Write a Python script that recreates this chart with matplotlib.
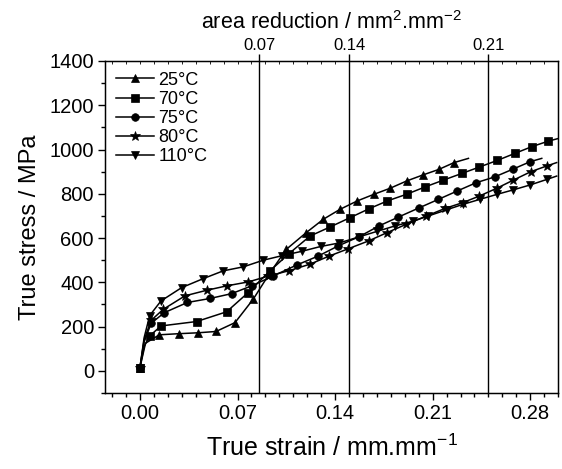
import matplotlib
matplotlib.use("Agg")
import matplotlib.pyplot as plt
from matplotlib.ticker import MultipleLocator

plt.rcParams['font.family'] = ['Liberation Sans', 'DejaVu Sans']
plt.rcParams['mathtext.fontset'] = 'custom'
plt.rcParams['mathtext.rm'] = 'Liberation Sans'
plt.rcParams['mathtext.it'] = 'Liberation Sans'
plt.rcParams['mathtext.default'] = 'regular'

# ---- data (true strain, true stress MPa) ----
labels = ["25°C", "70°C", "75°C", "80°C", "110°C"]
markers = ["^", "s", "o", "*", "v"]

x25 = [0.0, 0.004, 0.0139, 0.0278, 0.0414, 0.0546, 0.0682, 0.0813, 0.093, 0.105, 0.1192,
       0.1316, 0.1436, 0.156, 0.168, 0.1795, 0.1914, 0.203, 0.2144, 0.2254, 0.2357]
y25 = [15, 125, 163, 168, 172, 178, 218, 324, 440, 549, 624,
       685, 730, 768, 798, 825, 858, 885, 910, 941, 960]

x70 = [0.0, 0.003, 0.007, 0.0151, 0.0407, 0.0622, 0.0777, 0.0933, 0.107, 0.122, 0.1364,
       0.1507, 0.1646, 0.1776, 0.1914, 0.2046, 0.2178, 0.231, 0.2436, 0.2565, 0.2692,
       0.2812, 0.2931, 0.3003]
y70 = [15, 110, 158, 203, 223, 267, 354, 452, 530, 609, 650,
       692, 733, 768, 798, 831, 862, 892, 921, 951, 983,
       1013, 1038, 1050]

x75 = [0.0, 0.003, 0.008, 0.0175, 0.034, 0.0502, 0.0658, 0.0801, 0.0957, 0.1124, 0.128,
       0.1424, 0.1575, 0.1716, 0.1855, 0.2005, 0.2142, 0.2278, 0.2412, 0.2544, 0.2675,
       0.28, 0.2883]
y75 = [15, 130, 215, 263, 309, 327, 349, 384, 429, 478, 519,
       565, 607, 655, 695, 737, 775, 813, 850, 876, 911,
       945, 960]

x80 = [0.0, 0.003, 0.008, 0.0167, 0.0323, 0.0478, 0.0622, 0.0778, 0.092, 0.1072, 0.122,
       0.1359, 0.1496, 0.164, 0.1771, 0.191, 0.205, 0.2189, 0.2316, 0.2436, 0.256,
       0.268, 0.2805, 0.292, 0.299]
y80 = [15, 140, 228, 278, 339, 364, 384, 402, 428, 453, 482,
       519, 552, 587, 624, 662, 698, 734, 760, 790, 825,
       862, 900, 926, 941]

x110 = [0.0, 0.003, 0.007, 0.0151, 0.0299, 0.0455, 0.0598, 0.0742, 0.0885, 0.1017, 0.116,
        0.1297, 0.1431, 0.157, 0.170, 0.1831, 0.1957, 0.207, 0.2202, 0.2316, 0.244,
        0.2565, 0.268, 0.28, 0.292, 0.299]
y110 = [15, 150, 250, 316, 376, 417, 452, 470, 500, 520, 540,
        562, 578, 605, 630, 655, 676, 700, 728, 752, 775,
        798, 818, 840, 865, 880]

xs = [x25, x70, x75, x80, x110]
ys = [y25, y70, y75, y80, y110]

# secondary axis ticks: (strain position, area reduction label)
top_pos = [0.0856, 0.150, 0.2498]
top_labels = ["0.07", "0.14", "0.21"]

xticks = [0.00, 0.07, 0.14, 0.21, 0.28]

fig = plt.figure(figsize=(5.62, 4.69), dpi=100)
ax = fig.add_axes([0.187, 0.162, 0.806, 0.708])

for x, y, m, lab in zip(xs, ys, markers, labels):
    mk = [0] + list(range(2, len(x) - 1))
    ms = 7.5 if m == "*" else 5.5
    ax.plot(x, y, color="black", lw=1.1, marker=m, ms=ms, markevery=mk,
            label=lab, markeredgewidth=0.5)

for p in top_pos:
    ax.axvline(p, color="black", lw=1.0)

ax.set_xlim(-0.025, 0.30)
ax.set_ylim(-100, 1400)
ax.set_xticks(xticks)
ax.set_xticklabels([f"{v:.2f}" for v in xticks])
ax.xaxis.set_minor_locator(MultipleLocator(0.01))
ax.yaxis.set_minor_locator(MultipleLocator(100))
ax.set_yticks([0, 200, 400, 600, 800, 1000, 1200, 1400])
ax.tick_params(axis="both", which="major", direction="out", length=5, width=1,
               labelsize=14.5, pad=3)
ax.tick_params(axis="both", which="minor", direction="out", length=3, width=1)
for s in ax.spines.values():
    s.set_linewidth(1.0)

ax.set_xlabel("True strain / mm.mm$^{-1}$", fontsize=18, labelpad=8)
ax.set_ylabel("True stress / MPa", fontsize=17, labelpad=6)

ax2 = ax.twiny()
ax2.set_xlim(ax.get_xlim())
ax2.set_xticks(top_pos)
ax2.set_xticklabels(top_labels)
ax2.xaxis.set_minor_locator(MultipleLocator(0.01))
ax2.tick_params(axis="x", which="major", direction="out", length=5, width=1,
                labelsize=12, pad=1)
ax2.tick_params(axis="x", which="minor", direction="in", length=2, width=0.6)
ax2.set_xlabel("area reduction / mm$^{2}$.mm$^{-2}$", fontsize=15.5, labelpad=6)

leg = ax.legend(loc="upper left", frameon=False, fontsize=13, handlelength=2.1,
                handletextpad=0.25, labelspacing=0.12, borderaxespad=0.3,
                borderpad=0.3, markerscale=1.0)

fig.savefig("out.png", dpi=100)
